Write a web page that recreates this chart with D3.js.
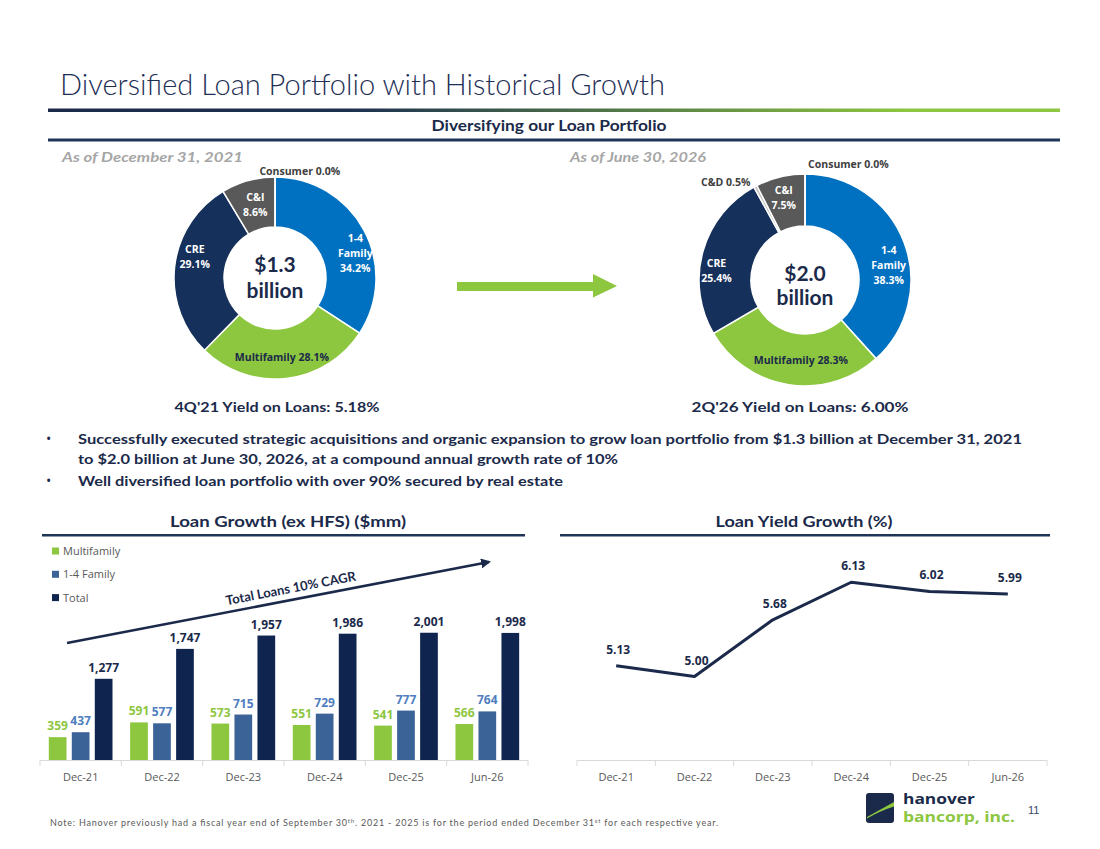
<!DOCTYPE html>
<html>
<head>
<meta charset="utf-8">
<script src="https://cdn.jsdelivr.net/npm/d3@7"></script>
<style>
  body { margin: 0; background: #fff; }
  svg { display: block; }
  text { font-family: "Open Sans", sans-serif; }
</style>
</head>
<body>
<div id="chart"></div>
<script>
const width = 1100;
const height = 849;

// chart values
const categories = ["Dec-21", "Dec-22", "Dec-23", "Dec-24", "Dec-25", "Jun-26"];
const seriesNames = ["Multifamily", "1-4 Family", "Total"];
const multifamily = [359, 591, 573, 551, 541, 566];
const oneToFour = [437, 577, 715, 729, 777, 764];
const totalLoans = [1277, 1747, 1957, 1986, 2001, 1998];
const loanYield = [5.13, 5.00, 5.68, 6.13, 6.02, 5.99];

const mix2021Names = ["1-4 Family", "Multifamily", "CRE", "C&I", "Consumer"];
const mix2021Values = [34.2, 28.1, 29.1, 8.6, 0.0];
const mix2026Names = ["1-4 Family", "Multifamily", "CRE", "C&D", "C&I", "Consumer"];
const mix2026Values = [38.3, 28.3, 25.4, 0.5, 7.5, 0.0];

const navy = "#1b2a4a";
const green = "#8dc63f";
const grayText = "#595959";

const sliceColor = {
    "1-4 Family": "#0070c0",
    "Multifamily": "#8dc63f",
    "CRE": "#15305a",
    "C&D": "#bfbfbf",
    "C&I": "#595959",
    "Consumer": "#7f7f7f"
};
const barColor = { "Multifamily": "#8dc63f", "1-4 Family": "#3c6397", "Total": "#0f2550" };
const barLabelColor = { "Multifamily": "#8dc63f", "1-4 Family": "#4f7ebf", "Total": navy };

const svg = d3.select("#chart")
    .append("svg")
    .attr("width", width)
    .attr("height", height);

const defs = svg.append("defs");
const grad = defs.append("linearGradient").attr("id", "rule").attr("x1", "0%").attr("x2", "100%");
grad.append("stop").attr("offset", "0%").attr("stop-color", navy);
grad.append("stop").attr("offset", "30%").attr("stop-color", "#1d3050");
grad.append("stop").attr("offset", "85%").attr("stop-color", green);
grad.append("stop").attr("offset", "100%").attr("stop-color", green);

defs.append("marker")
    .attr("id", "head")
    .attr("viewBox", "0 0 10 10")
    .attr("refX", 8).attr("refY", 5)
    .attr("markerWidth", 4).attr("markerHeight", 4)
    .attr("orient", "auto")
    .append("path")
    .attr("d", "M0,0 L10,5 L0,10 Z")
    .attr("fill", navy);

// ---- header ----
svg.append("text")
    .attr("x", 60).attr("y", 95)
    .attr("textLength", 605).attr("lengthAdjust", "spacingAndGlyphs")
    .style("font-family", "Lato, 'Open Sans', sans-serif")
    .style("font-weight", 300)
    .style("font-size", "29px")
    .attr("fill", "#1e2f56")
    .text("Diversified Loan Portfolio with Historical Growth");

svg.append("rect").attr("x", 48).attr("y", 108.5).attr("width", 1012).attr("height", 3.5).attr("fill", "url(#rule)");

function heading(x, y, len, size, txt) {
    return svg.append("text")
        .attr("x", x).attr("y", y)
        .attr("text-anchor", "middle")
        .attr("textLength", len).attr("lengthAdjust", "spacingAndGlyphs")
        .style("font-family", "Lato, 'Open Sans', sans-serif")
        .style("font-weight", 700)
        .style("font-size", size + "px")
        .attr("fill", navy)
        .text(txt);
}

heading(549, 131, 235, 15, "Diversifying our Loan Portfolio");
svg.append("rect").attr("x", 48).attr("y", 138.5).attr("width", 1012).attr("height", 3).attr("fill", "#1f3558");

[["As of December 31, 2021", 62, 181], ["As of June 30, 2026", 570, 136]].forEach(([t, x, len]) => {
    svg.append("text")
        .attr("x", x).attr("y", 162)
        .attr("textLength", len).attr("lengthAdjust", "spacingAndGlyphs")
        .style("font-family", "Lato, 'Open Sans', sans-serif")
        .style("font-weight", 700).style("font-style", "italic")
        .style("font-size", "14px")
        .attr("fill", "#a6a6a6")
        .text(t);
});

// ---- donuts ----
const pie = d3.pie().sort(null).value(d => d.value);

function drawDonut(names, values, cx, cy, ro, ri, totalText, textDy, labelLayout) {
    const slices = names.map((n, i) => ({ name: n, value: values[i] }));
    const arc = d3.arc().innerRadius(ri).outerRadius(ro);
    const g = svg.append("g").attr("transform", `translate(${cx},${cy})`);

    g.selectAll("path")
        .data(pie(slices))
        .enter()
        .append("path")
        .attr("d", arc)
        .attr("fill", d => sliceColor[d.data.name])
        .attr("stroke", "#fff")
        .attr("stroke-width", 1.5);

    totalText.forEach((t, k) => {
        g.append("text").attr("text-anchor", "middle").attr("y", textDy[k])
            .style("font-family", "Lato, sans-serif").style("font-weight", 700).style("font-size", "21px")
            .attr("fill", navy).text(t);
    });

    slices.forEach(s => {
        const lay = labelLayout[s.name];
        const pct = s.value.toFixed(1) + "%";
        const lines = lay.stack ? s.name.split(" ").concat([pct]) : [s.name + " " + pct];
        const a = lay.a * Math.PI / 180;
        const lx = lay.r * Math.sin(a);
        const ly = -lay.r * Math.cos(a);
        const t = g.append("text")
            .attr("text-anchor", "middle")
            .style("font-weight", 700)
            .style("font-size", "10.5px")
            .attr("fill", lay.color);
        lines.forEach((ln, k) => {
            t.append("tspan")
                .attr("x", lx)
                .attr("y", ly + (k - (lines.length - 1) / 2) * 15 + 4)
                .text(ln);
        });
    });
}

drawDonut(mix2021Names, mix2021Values, 275, 278, 101, 51, ["$1.3", "billion"], [-6, 20], {
    "1-4 Family": { a: 73, r: 84, stack: true, color: "#fff" },
    "Multifamily": { a: 175, r: 79, stack: false, color: navy },
    "CRE": { a: 285, r: 83, stack: true, color: "#fff" },
    "C&I": { a: 345, r: 76, stack: true, color: "#fff" },
    "Consumer": { a: 13, r: 110, stack: false, color: "#404040" }
});

drawDonut(mix2026Names, mix2026Values, 805, 280, 106, 54, ["$2.0", "billion"], [1, 25], {
    "1-4 Family": { a: 80, r: 85, stack: true, color: "#fff" },
    "Multifamily": { a: 183, r: 80, stack: false, color: navy },
    "CRE": { a: 276, r: 89, stack: true, color: "#fff" },
    "C&D": { a: 321, r: 126, stack: false, color: "#404040" },
    "C&I": { a: 345.5, r: 85, stack: true, color: "#fff" },
    "Consumer": { a: 20.5, r: 124, stack: false, color: "#404040" }
});

// green arrow between the donuts
svg.append("path")
    .attr("d", "M457,282 L593,282 L593,274 L617,286 L593,297.5 L593,291 L457,291 Z")
    .attr("fill", green);

heading(277, 412, 205, 14, "4Q'21 Yield on Loans: 5.18%");
heading(800, 412, 217, 14, "2Q'26 Yield on Loans: 6.00%");

// ---- bullets ----
const bulletLines = [
    ["Successfully executed strategic acquisitions and organic expansion to grow loan portfolio from $1.3 billion at December 31, 2021", 444, 944, true],
    ["to $2.0 billion at June 30, 2026, at a compound annual growth rate of 10%", 464, 540, false],
    ["Well diversified loan portfolio with over 90% secured by real estate", 486, 485, true]
];
bulletLines.forEach(([t, y, len, dot]) => {
    if (dot) {
        svg.append("text").attr("x", 46).attr("y", y)
            .style("font-size", "14px").attr("fill", navy).text("•");
    }
    svg.append("text")
        .attr("x", 78).attr("y", y)
        .attr("textLength", len).attr("lengthAdjust", "spacingAndGlyphs")
        .style("font-family", "Lato, 'Open Sans', sans-serif")
        .style("font-weight", 700)
        .style("font-size", "14px")
        .attr("fill", navy)
        .text(t);
});

// ---- loan growth bars ----
heading(288, 527, 236, 15, "Loan Growth (ex HFS) ($mm)");
svg.append("rect").attr("x", 42).attr("y", 534).attr("width", 483).attr("height", 2.5).attr("fill", "#1f3558");

const x0 = d3.scaleBand().domain(categories).range([40, 528]);
const x1 = d3.scaleBand().domain(seriesNames).range([8.8, 72.5]).paddingInner(0.23);
const yBar = d3.scaleLinear().domain([0, 2500]).range([760, 601]);

const rows = categories.map((c, i) => ({
    cat: c,
    values: [
        { key: "Multifamily", v: multifamily[i] },
        { key: "1-4 Family", v: oneToFour[i] },
        { key: "Total", v: totalLoans[i] }
    ]
}));

const groups = svg.selectAll("g.grp")
    .data(rows)
    .enter()
    .append("g")
    .attr("class", "grp")
    .attr("transform", d => `translate(${x0(d.cat)},0)`);

groups.selectAll("rect")
    .data(d => d.values)
    .enter()
    .append("rect")
    .attr("x", d => x1(d.key))
    .attr("y", d => yBar(d.v))
    .attr("width", x1.bandwidth())
    .attr("height", d => yBar(0) - yBar(d.v))
    .attr("fill", d => barColor[d.key]);

groups.selectAll("text.val")
    .data(d => d.values)
    .enter()
    .append("text")
    .attr("class", "val")
    .attr("x", d => x1(d.key) + x1.bandwidth() / 2)
    .attr("y", d => yBar(d.v) - 7)
    .attr("text-anchor", "middle")
    .style("font-weight", 700)
    .style("font-size", "12px")
    .attr("fill", d => barLabelColor[d.key])
    .text(d => d3.format(",")(d.v));

function categoryAxis(scale, y) {
    const ax = svg.append("g")
        .attr("transform", `translate(0,${y})`)
        .call(d3.axisBottom(scale).tickSize(0).tickPadding(13));
    ax.select(".domain").remove();
    ax.selectAll("text")
        .style("font-family", "'Open Sans', sans-serif")
        .style("font-size", "11px")
        .attr("fill", grayText);
    const [r0, r1] = scale.range();
    ax.append("line").attr("x1", r0).attr("x2", r1).attr("y1", 0.5).attr("y2", 0.5)
        .attr("stroke", "#d9d9d9");
    scale.domain().concat([null]).forEach(c => {
        const xx = c === null ? r1 : scale(c);
        ax.append("line").attr("x1", xx).attr("x2", xx).attr("y1", 0).attr("y2", 6)
            .attr("stroke", "#d9d9d9");
    });
}
categoryAxis(x0, 760);

// legend
seriesNames.forEach((s, i) => {
    svg.append("rect").attr("x", 52).attr("y", 547.5 + i * 23.3).attr("width", 7).attr("height", 7)
        .attr("fill", barColor[s]);
    svg.append("text").attr("x", 63).attr("y", 555 + i * 23.3)
        .style("font-size", "11px").attr("fill", grayText).text(s);
});

// CAGR annotation arrow
const cagrFrom = [67, 643];
const cagrTo = [489, 562];
svg.append("line")
    .attr("x1", cagrFrom[0]).attr("y1", cagrFrom[1])
    .attr("x2", cagrTo[0]).attr("y2", cagrTo[1])
    .attr("stroke", navy).attr("stroke-width", 2.5)
    .attr("marker-end", "url(#head)");
const cagrAngle = Math.atan2(cagrTo[1] - cagrFrom[1], cagrTo[0] - cagrFrom[0]) * 180 / Math.PI;
svg.append("text")
    .attr("transform", `translate(293,${cagrFrom[1] + (293 - cagrFrom[0]) * (cagrTo[1] - cagrFrom[1]) / (cagrTo[0] - cagrFrom[0])}) rotate(${cagrAngle})`)
    .attr("y", -7)
    .attr("text-anchor", "middle")
    .attr("textLength", 132).attr("lengthAdjust", "spacingAndGlyphs")
    .style("font-family", "Lato, 'Open Sans', sans-serif")
    .style("font-weight", 700)
    .style("font-size", "13px")
    .attr("fill", navy)
    .text("Total Loans 10% CAGR");

// ---- loan yield line ----
heading(804, 527, 177, 15, "Loan Yield Growth (%)");
svg.append("rect").attr("x", 560).attr("y", 534).attr("width", 490).attr("height", 2.5).attr("fill", "#1f3558");

const xLine = d3.scaleBand().domain(categories).range([577, 1047]);
const yLine = d3.scaleLinear().domain([4, 7]).range([760, 509.65]);
const yieldPts = categories.map((c, i) => ({ cat: c, v: loanYield[i] }));

svg.append("path")
    .datum(yieldPts)
    .attr("d", d3.line().x(d => xLine(d.cat) + xLine.bandwidth() / 2).y(d => yLine(d.v)))
    .attr("fill", "none")
    .attr("stroke", navy)
    .attr("stroke-width", 3)
    .attr("stroke-linejoin", "round");

svg.selectAll("text.yl")
    .data(yieldPts)
    .enter()
    .append("text")
    .attr("class", "yl")
    .attr("x", d => xLine(d.cat) + xLine.bandwidth() / 2 + 2)
    .attr("y", d => yLine(d.v) - 12)
    .attr("text-anchor", "middle")
    .style("font-weight", 700)
    .style("font-size", "12px")
    .attr("fill", navy)
    .text(d => d.v.toFixed(2));

categoryAxis(xLine, 760);

// ---- footer ----
const note = svg.append("text").attr("x", 50).attr("y", 826)
    .attr("textLength", 668).attr("lengthAdjust", "spacing")
    .style("font-family", "Lato, 'Open Sans', sans-serif")
    .style("font-size", "9px")
    .attr("fill", grayText);
note.append("tspan").text("Note: Hanover previously had a fiscal year end of September 30");
note.append("tspan").attr("dy", -3).style("font-size", "6px").text("th");
note.append("tspan").attr("dy", 3).text(". 2021 - 2025 is for the period ended December 31");
note.append("tspan").attr("dy", -3).style("font-size", "6px").text("st");
note.append("tspan").attr("dy", 3).text(" for each respective year.");

// logo
svg.append("rect").attr("x", 866).attr("y", 793).attr("width", 28).attr("height", 30).attr("rx", 3).attr("fill", navy);
svg.append("path").attr("d", "M867,817 L894,802 L894,806.5 Q881,810.5 867,818.5 Z").attr("fill", green);
svg.append("text").attr("x", 903).attr("y", 804)
    .attr("textLength", 72).attr("lengthAdjust", "spacingAndGlyphs")
    .style("font-family", "'Liberation Sans Narrow', 'Open Sans', sans-serif")
    .style("font-weight", 700).style("font-size", "14px")
    .attr("fill", navy).text("hanover");
svg.append("text").attr("x", 903).attr("y", 822)
    .attr("textLength", 112).attr("lengthAdjust", "spacingAndGlyphs")
    .style("font-family", "'Liberation Sans Narrow', 'Open Sans', sans-serif")
    .style("font-weight", 700).style("font-size", "14px")
    .attr("fill", green).text("bancorp, inc.");
svg.append("text").attr("x", 1028).attr("y", 814)
    .style("font-family", "'Liberation Sans', sans-serif")
    .style("font-size", "11px")
    .attr("fill", "#3a4766").text("11");
</script>
</body>
</html>
